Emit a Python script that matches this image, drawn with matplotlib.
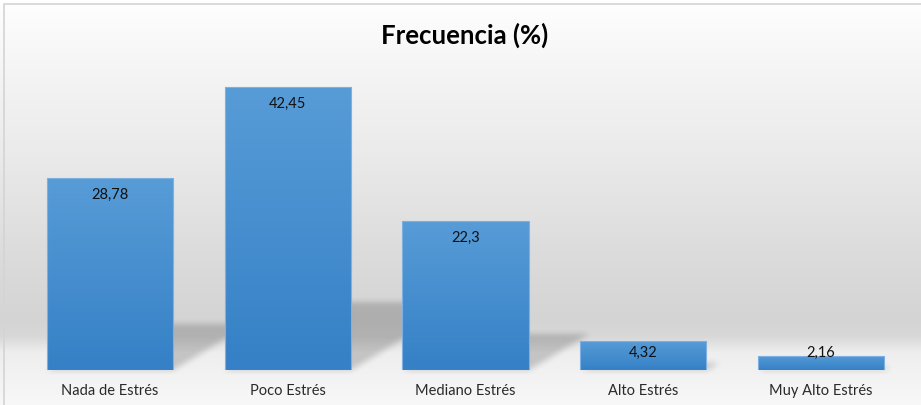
import matplotlib
matplotlib.use("Agg")
import matplotlib.pyplot as plt
import numpy as np
from matplotlib.colors import LinearSegmentedColormap
from matplotlib.path import Path

categories = ["Nada de Estrés", "Poco Estrés", "Mediano Estrés", "Alto Estrés", "Muy Alto Estrés"]
values = [28.78, 42.45, 22.3, 4.32, 2.16]
labels = ["28,78", "42,45", "22,3", "4,32", "2,16"]
title = "Frecuencia (%)"

W, H, DPI = 921, 405, 100
FONT = ["Lato", "DejaVu Sans"]


def box_blur(a, r, axis):
    k = np.ones(2 * r + 1) / (2 * r + 1)
    return np.apply_along_axis(lambda m: np.convolve(m, k, mode="same"), axis, a)


fig = plt.figure(figsize=(W / DPI, H / DPI), dpi=DPI)

# background gradient (pixel rows from the top)
bg_ax = fig.add_axes([0, 0, 1, 1], zorder=0)
stops_y = [0, 4, 60, 150, 250, 320, 336, 352, 405]
stops_c = [255, 254, 246, 235, 220, 212, 216, 238, 248]
rows = np.interp(np.arange(H), stops_y, stops_c) / 255.0
img = np.repeat(rows[:, None], 4, axis=1)
bg_ax.imshow(np.dstack([img, img, img]), aspect="auto", extent=[0, W, H, 0])
bg_ax.set_xlim(0, W)
bg_ax.set_ylim(H, 0)
bg_ax.plot([4, 4, W], [H, 4, 4], color="#d4d4d4", lw=1.2)
bg_ax.axis("off")

ax = fig.add_axes([21 / W, 35 / H, 889 / W, 300 / H], zorder=1)
ax.patch.set_alpha(0)
ax.set_xlim(-0.5, 4.5)
ax.set_ylim(0, 45)

x = np.arange(len(values))
width = 0.71
px_per_unit_y = 300 / 45
px_per_unit_x = 889 / 5

# soft perspective shadows, rasterised in figure pixels then blurred
cols, rws = np.meshgrid(np.arange(W) + 0.5, np.arange(H) + 0.5)
pts = np.column_stack([cols.ravel(), H - rws.ravel()])
mask = np.zeros(H * W)
for xi, v in zip(x, values):
    hs = 0.24 * v
    dx = 0.4 * v * px_per_unit_y / px_per_unit_x
    x0, x1 = xi - width / 2, xi + width / 2
    poly = ax.transData.transform([(x0, 0), (x1, 0), (x1 + dx, hs), (x0 + dx, hs), (x0, 0)])
    mask = np.maximum(mask, Path(poly).contains_points(pts))
mask = mask.reshape(H, W)
for _ in range(2):
    mask = box_blur(mask, 3, 0)
    mask = box_blur(mask, 3, 1)
shadow = np.zeros((H, W, 4))
shadow[..., 3] = 0.18 * mask
bg_ax.imshow(shadow, aspect="auto", extent=[0, W, H, 0], zorder=2)

# bars with vertical gradient
bar_cmap = LinearSegmentedColormap.from_list("bar", ["#3580c6", "#579cd7"])
bars = ax.bar(x, values, width=width, facecolor="none", edgecolor="#7eb1e2",
              linewidth=0.8, zorder=3)
grad = np.linspace(0, 1, 100)[:, None]
for b in bars:
    bx, by = b.get_x(), b.get_y()
    im = ax.imshow(grad, cmap=bar_cmap, aspect="auto", origin="lower",
                   extent=[bx, bx + b.get_width(), by, by + b.get_height()], zorder=2)
    im.set_clip_path(b)

# data labels
off = 17 / px_per_unit_y
for xi, v, lab in zip(x, values, labels):
    ax.text(xi, max(v - off, off), lab, ha="center", va="center", fontsize=10.5,
            family=FONT, color="#111111", zorder=4)

ax.set_xticks(x, categories, family=FONT, fontsize=10.5, color="#2a2a2a")
ax.tick_params(axis="x", length=0, pad=10)
ax.set_yticks([])
for s in ax.spines.values():
    s.set_visible(False)

fig.text(465 / W, 1 - 35 / H, title, ha="center", va="center", fontsize=18.5,
         fontweight="bold", family=FONT, color="black")

fig.savefig("out.png", dpi=DPI)
